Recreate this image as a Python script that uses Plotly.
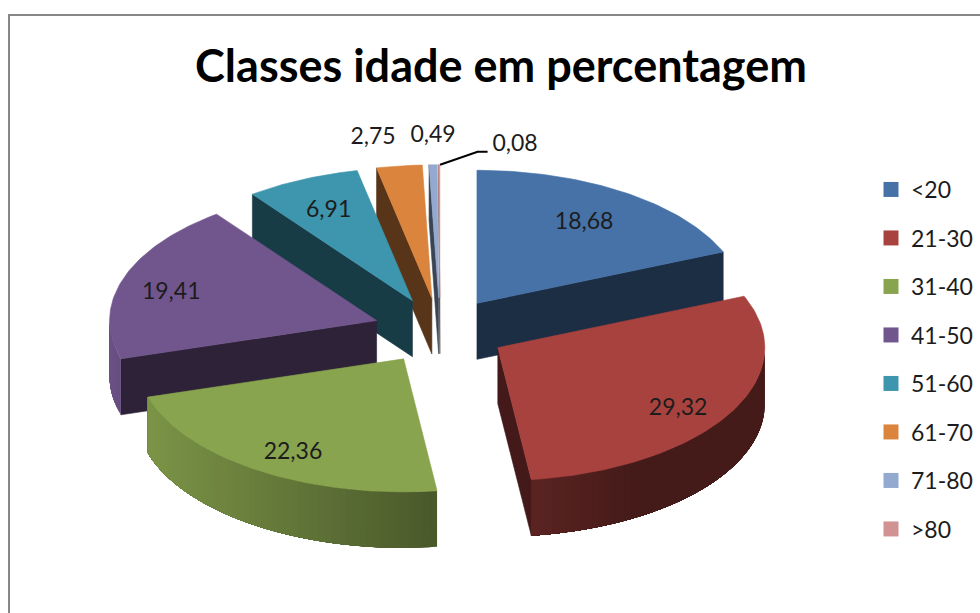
import math
import numpy as np
import plotly.graph_objects as go

# Data
categories = ["<20", "21-30", "31-40", "41-50", "51-60", "61-70", "71-80", ">80"]
values = [18.68, 29.32, 22.36, 19.41, 6.91, 2.75, 0.49, 0.08]
value_labels = ["18,68", "29,32", "22,36", "19,41", "6,91", "2,75", "0,49", "0,08"]
colors = ["#4672A8", "#A8423F", "#88A44E", "#71558D", "#3D96AE", "#DB843D", "#93A9CF", "#D19392"]
title_text = "Classes idade em percentagem"

# Pie geometry (pixels of the chart area)
CX, CY = 440.0, 331.0
RX, RY = 267.0, 133.0
DEPTH = 56.0
PULL = 0.25
LABEL_RX = [0.725, 0.78, 0.76, 0.81, 0.76]
LABEL_RY = [0.76, 0.87, 0.81, 0.75, 0.77]
LABEL_DY = 4
FONT = "Lato"
TEXT = "#1c1c1c"


def shade(hex_color, f):
    r, g, b = (int(hex_color[i:i + 2], 16) for i in (1, 3, 5))
    return f"rgb({r * f:.0f},{g * f:.0f},{b * f:.0f})"


def poly(xs, ys, color, edge=0.6):
    if edge:
        return go.Scatter(x=xs, y=ys, mode="lines", fill="toself", fillcolor=color,
                          line=dict(color=color, width=edge), hoverinfo="skip", showlegend=False)
    return go.Scatter(x=xs, y=ys, mode="none", fill="toself", fillcolor=color,
                      hoverinfo="skip", showlegend=False)


def arc_factor(theta):
    return float(np.interp(math.sin(theta), [-1, -0.95, 0.12, 0.5, 1], [0.95, 0.9, 0.54, 0.41, 0.41]))


fig = go.Figure()
total = sum(values)
ends = np.cumsum(values) / total * 2 * math.pi
starts = ends - np.array(values) / total * 2 * math.pi
mids = (starts + ends) / 2
apex_x = CX + PULL * RX * np.sin(mids)
apex_y = CY - PULL * RY * np.cos(mids)

# Paint from the back of the picture to the front
order = sorted(range(len(values)), key=lambda k: -math.cos(mids[k]))

for i in order:
    c = colors[i]
    ax, ay = apex_x[i], apex_y[i]
    s, e = starts[i], ends[i]
    px = lambda t: ax + RX * math.sin(t)
    py = lambda t: ay - RY * math.cos(t)

    # radial walls that face the viewer
    if math.sin(s) < 0:
        fig.add_trace(poly([ax, px(s), px(s), ax, ax], [ay, py(s), py(s) + DEPTH, ay + DEPTH, ay], shade(c, 0.4)))
    if math.sin(e) > 0:
        fig.add_trace(poly([ax, px(e), px(e), ax, ax], [ay, py(e), py(e) + DEPTH, ay + DEPTH, ay], shade(c, 0.4)))

    # outer rim: overlapping shaded bands, each running to the end of the visible arc
    lo, hi = max(s, math.pi / 2), min(e, 3 * math.pi / 2)
    if hi > lo:
        n = max(2, int((hi - lo) / math.radians(1.5)))
        grid = np.linspace(lo, hi, n + 1)
        for t0, t1 in zip(grid[:-1], grid[1:]):
            ts = np.linspace(t0, hi, max(2, int((hi - t0) / math.radians(1)) + 2))
            top_x = [px(t) for t in ts]
            top_y = [py(t) for t in ts]
            xs = top_x + top_x[::-1] + [top_x[0]]
            ys = top_y + [y + DEPTH for y in top_y[::-1]] + [top_y[0]]
            fig.add_trace(poly(xs, ys, shade(c, arc_factor((t0 + t1) / 2)), edge=0))

    # top face
    ts = np.linspace(s, e, max(2, int((e - s) / math.radians(1)) + 2))
    fig.add_trace(poly([ax] + [px(t) for t in ts] + [ax], [ay] + [py(t) for t in ts] + [ay], c))

# Leader line of the smallest slice
i_last = len(values) - 1
tip_x = apex_x[i_last] + RX * math.sin(ends[i_last] - 0.001)
tip_y = apex_y[i_last] - RY
fig.add_trace(go.Scatter(x=[tip_x + 0.5, tip_x + 38, tip_x + 48], y=[tip_y, tip_y - 13, tip_y - 13], mode="lines",
                         line=dict(color="#000000", width=2), hoverinfo="skip", showlegend=False))

# Value labels: inside for large slices, above the pie for the three small ones
outside = {5: (373, 134), 6: (433, 132), 7: (515, 141)}
label_x, label_y = [], []
for i in range(len(values)):
    if i in outside:
        label_x.append(outside[i][0])
        label_y.append(outside[i][1] + LABEL_DY)
    else:
        label_x.append(apex_x[i] + LABEL_RX[i] * RX * math.sin(mids[i]))
        label_y.append(apex_y[i] - LABEL_RY[i] * RY * math.cos(mids[i]) + LABEL_DY)
fig.add_trace(go.Scatter(x=label_x, y=label_y, mode="text", text=value_labels, textposition="middle center",
                         textfont=dict(family=FONT, size=23, color=TEXT), hoverinfo="skip", showlegend=False))

# Legend entries
for name, c in zip(categories, colors):
    fig.add_trace(go.Scatter(x=[None], y=[None], mode="markers", name=name, legendgroup=name,
                             marker=dict(symbol="square", size=15, color=c)))

frame = "M 9 613 L 9 15 L 980 15"
fig.update_layout(
    width=980, height=613,
    margin=dict(l=0, r=0, t=0, b=0),
    paper_bgcolor="white", plot_bgcolor="white",
    title=dict(text=f"<b>{title_text}</b>", x=501 / 980, y=1 - 66 / 613, xanchor="center", yanchor="middle",
               font=dict(family=FONT, size=45, color="#000000")),
    xaxis=dict(range=[0, 980], visible=False, fixedrange=True),
    yaxis=dict(range=[613, 0], visible=False, fixedrange=True),
    legend=dict(x=871 / 980, y=1 - 168 / 613, xanchor="left", yanchor="top", tracegroupgap=15.6,
                font=dict(family=FONT, size=23, color=TEXT), bgcolor="rgba(0,0,0,0)"),
    shapes=[dict(type="path", path=frame, line=dict(color="#878787", width=2), xref="x", yref="y")],
    showlegend=True,
)
fig.write_html("out.html", post_script="document.body.style.margin='0';", config=dict(displayModeBar=False))
